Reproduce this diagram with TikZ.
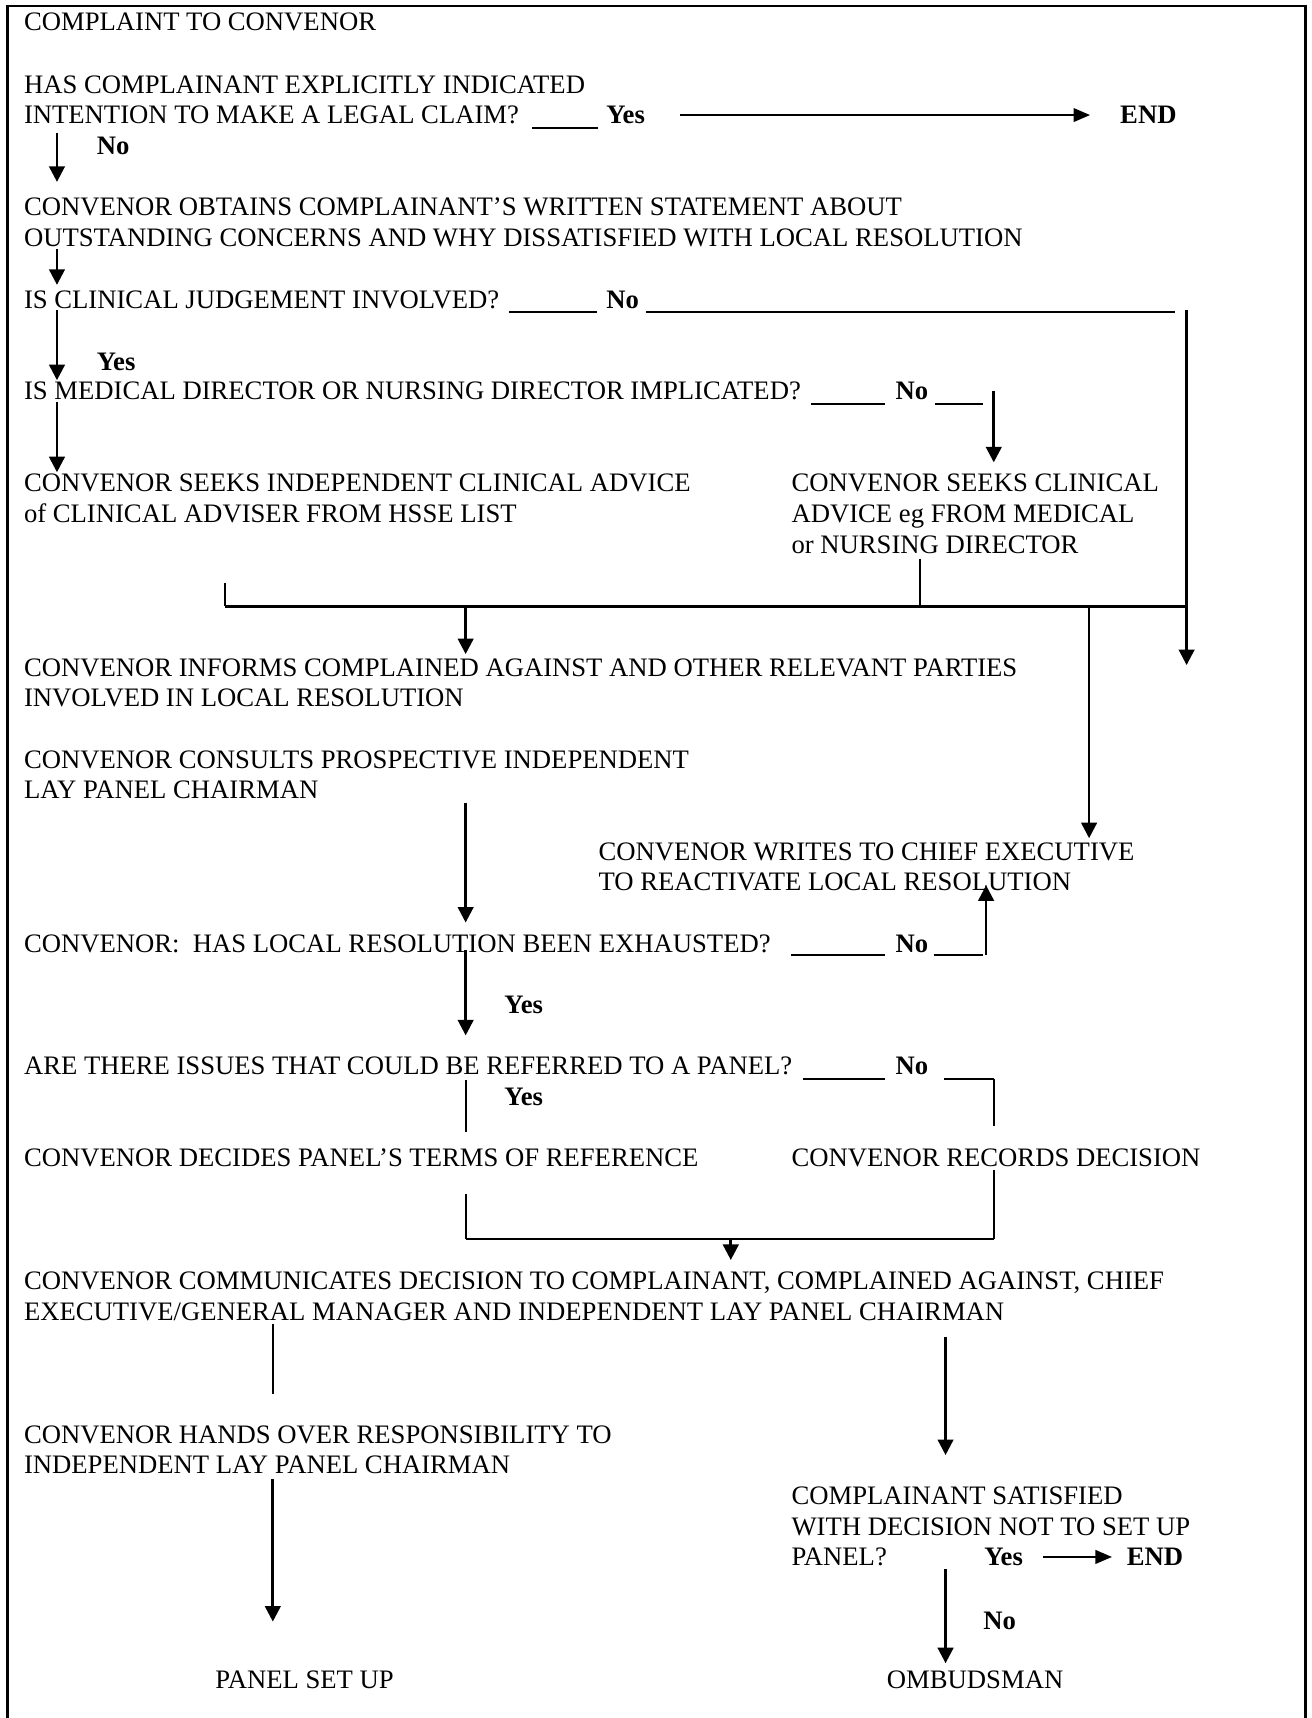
\documentclass[tikz,border=0pt]{standalone}
\usepackage{fontspec}
\setmainfont{Liberation Serif}
\usetikzlibrary{arrows.meta}
\begin{document}
\begin{tikzpicture}[x=0.493pt,y=-0.493pt,
  % multi-line text: the base anchor sits on the baseline of the last line
  txt/.style={anchor=base west, inner sep=0pt, font=\fontsize{12}{13.8}\selectfont, align=left},
  ctr/.style={anchor=base, inner sep=0pt, font=\fontsize{12}{13.8}\selectfont},
  lbl/.style={anchor=base west, inner sep=0pt, font=\fontsize{12}{13.8}\selectfont\bfseries},
  wire/.style={line width=0.8pt},
  bus/.style={line width=1pt},
  rule/.style={line width=0.9pt},
  arr/.style={line width=1.2pt, -{Triangle[length=7pt,width=7pt]}},
  bigarr/.style={line width=1.3pt, -{Triangle[length=7.5pt,width=6pt]}},
]
\useasboundingbox (0,0) rectangle (1197,1568);
\draw[line width=1.2pt] (7,1570) -- (7,5.5) -- (1191.5,5.5) -- (1191.5,1570);

% ---- text of the flow ----
\node[txt] (t0) at (21.5,27.5) {COMPLAINT TO CONVENOR};
\node[txt] (t1) at (21.5,113) {HAS COMPLAINANT EXPLICITLY INDICATED\\INTENTION TO MAKE A LEGAL CLAIM?};
\node[lbl] (y1) at (553,113) {Yes};
\node[lbl] (e1) at (1022,113) {END};
\node[lbl] (n1) at (88,141) {No};
\node[txt] (t2) at (21.5,225) {CONVENOR OBTAINS COMPLAINANT’S WRITTEN STATEMENT ABOUT\\OUTSTANDING CONCERNS AND WHY DISSATISFIED WITH LOCAL RESOLUTION};
\node[txt] (t3) at (21.5,282) {IS CLINICAL JUDGEMENT INVOLVED?};
\node[lbl] (n3) at (553,282) {No};
\node[lbl] (y3) at (88,338) {Yes};
\node[txt] (t4) at (21.5,365) {IS MEDICAL DIRECTOR OR NURSING DIRECTOR IMPLICATED?};
\node[lbl] (n4) at (817,365) {No};
\node[txt] (t5) at (21.5,477) {CONVENOR SEEKS INDEPENDENT CLINICAL ADVICE\\of CLINICAL ADVISER FROM HSSE LIST};
\node[txt] (t6) at (722,505) {CONVENOR SEEKS CLINICAL\\ADVICE eg FROM MEDICAL\\or NURSING DIRECTOR};
\node[txt] (t7) at (21.5,645) {CONVENOR INFORMS COMPLAINED AGAINST AND OTHER RELEVANT PARTIES\\INVOLVED IN LOCAL RESOLUTION};
\node[txt] (t8) at (21.5,729) {CONVENOR CONSULTS PROSPECTIVE INDEPENDENT\\LAY PANEL CHAIRMAN};
\node[txt] (t9) at (546,813) {CONVENOR WRITES TO CHIEF EXECUTIVE\\TO REACTIVATE LOCAL RESOLUTION};
\node[txt] (t10) at (21.5,869) {CONVENOR:\ \ HAS LOCAL RESOLUTION BEEN EXHAUSTED?};
\node[lbl] (n10) at (817,869) {No};
\node[lbl] (y10) at (460,925) {Yes};
\node[txt] (t11) at (21.5,981) {ARE THERE ISSUES THAT COULD BE REFERRED TO A PANEL?};
\node[lbl] (n11) at (817,981) {No};
\node[lbl] (y11) at (460,1009) {Yes};
\node[txt] (t12) at (21.5,1065) {CONVENOR DECIDES PANEL’S TERMS OF REFERENCE};
\node[txt] (t13) at (722,1065) {CONVENOR RECORDS DECISION};
\node[txt] (t14) at (21.5,1205) {CONVENOR COMMUNICATES DECISION TO COMPLAINANT, COMPLAINED AGAINST, CHIEF\\EXECUTIVE/GENERAL MANAGER AND INDEPENDENT LAY PANEL CHAIRMAN};
\node[txt] (t15) at (21.5,1345) {CONVENOR HANDS OVER RESPONSIBILITY TO\\INDEPENDENT LAY PANEL CHAIRMAN};
\node[txt] (t16) at (722,1429) {COMPLAINANT SATISFIED\\WITH DECISION NOT TO SET UP\\PANEL?};
\node[lbl] (y16) at (898,1429) {Yes};
\node[lbl] (e16) at (1028,1429) {END};
\node[lbl] (n16) at (897,1487) {No};
\node[ctr] (t17) at (278,1541) {PANEL SET UP};
\node[ctr] (t18) at (890,1541) {OMBUDSMAN};

% ---- waypoints of the connectors ----
\coordinate (u1a) at (486,117);  \coordinate (u1b) at (546,117);
\coordinate (r1a) at (621,105);  \coordinate (r1b) at (995,105);
\coordinate (d1a) at (52,121);   \coordinate (d1b) at (52,166);
\coordinate (d2a) at (52,227);   \coordinate (d2b) at (52,260);
\coordinate (u3a) at (465,285);  \coordinate (u3b) at (545,285);
\coordinate (u3c) at (590,285);  \coordinate (u3d) at (1072,285);
\coordinate (v3a) at (1083,283); \coordinate (v3b) at (1083,607);
\coordinate (d3a) at (52,283);   \coordinate (d3b) at (52,347);
\coordinate (u4a) at (740,369);  \coordinate (u4b) at (808,369);
\coordinate (u4c) at (853,369);  \coordinate (u4d) at (897,369);
\coordinate (v4a) at (907,357);  \coordinate (v4b) at (907,422);
\coordinate (d4a) at (52,367);   \coordinate (d4b) at (52,431);
\coordinate (j1) at (840,510);   \coordinate (j2) at (205,532);
\coordinate (bL) at (205,553.5); \coordinate (bR) at (1083,553.5);
\coordinate (bM) at (840,553.5);
\coordinate (b1) at (425,553.5); \coordinate (b1e) at (425,597);
\coordinate (b2) at (994,553.5); \coordinate (b2e) at (994,765);
\coordinate (d8a) at (425,733);  \coordinate (d8b) at (425,842);
\coordinate (u10a) at (722,872); \coordinate (u10b) at (808,872);
\coordinate (u10c) at (852,872); \coordinate (u10d) at (897,872);
\coordinate (v10a) at (900,872); \coordinate (v10b) at (900,808);
\coordinate (d10a) at (425,867); \coordinate (d10b) at (425,945);
\coordinate (u11a) at (733,985); \coordinate (u11b) at (808,985);
\coordinate (u11c) at (862,985); \coordinate (u11d) at (907,985);
\coordinate (v11b) at (907,1028);
\coordinate (d11a) at (425,986); \coordinate (d11b) at (425,1033);
\coordinate (m1) at (425,1090);  \coordinate (m2) at (907,1068);
\coordinate (mL) at (425,1131);  \coordinate (mR) at (907,1131);
\coordinate (mC) at (667,1131);  \coordinate (mCe) at (667,1150);
\coordinate (h1) at (249,1208);  \coordinate (h2) at (249,1272);
\coordinate (o1) at (863,1220);  \coordinate (o2) at (863,1328);
\coordinate (h3) at (249,1350);  \coordinate (h4) at (249,1480);
\coordinate (s1) at (952,1421);  \coordinate (s2) at (1015,1421);
\coordinate (o3) at (863,1432);  \coordinate (o4) at (863,1518);

% ---- connectors ----
\draw[rule] (u1a) -- (u1b);
\draw[bigarr] (r1a) -- (r1b);
\draw[arr] (d1a) -- (d1b);
\draw[arr] (d2a) -- (d2b);
\draw[rule] (u3a) -- (u3b);
\draw[rule] (u3c) -- (u3d);
\draw[arr] (v3a) -- (v3b);
\draw[arr] (d3a) -- (d3b);
\draw[rule] (u4a) -- (u4b);
\draw[rule] (u4c) -- (u4d);
\draw[arr] (v4a) -- (v4b);
\draw[arr] (d4a) -- (d4b);
\draw[wire] (j1) -- (bM);
\draw[wire] (j2) -- (bL);
\draw[bus] (bL) -- (bR);
\draw[arr] (b1) -- (b1e);
\draw[arr] (b2) -- (b2e);
\draw[arr] (d8a) -- (d8b);
\draw[rule] (u10a) -- (u10b);
\draw[rule] (u10c) -- (u10d);
\draw[arr] (v10a) -- (v10b);
\draw[arr] (d10a) -- (d10b);
\draw[rule] (u11a) -- (u11b);
\draw[rule] (u11c) -- (u11d);
\draw[wire] (u11d) -- (v11b);
\draw[wire] (d11a) -- (d11b);
\draw[wire] (m1) -- (mL);
\draw[wire] (m2) -- (mR);
\draw[bus] (mL) -- (mR);
\draw[arr] (mC) -- (mCe);
\draw[wire] (h1) -- (h2);
\draw[arr] (o1) -- (o2);
\draw[arr] (h3) -- (h4);
\draw[bigarr] (s1) -- (s2);
\draw[arr] (o3) -- (o4);
\end{tikzpicture}
\end{document}
